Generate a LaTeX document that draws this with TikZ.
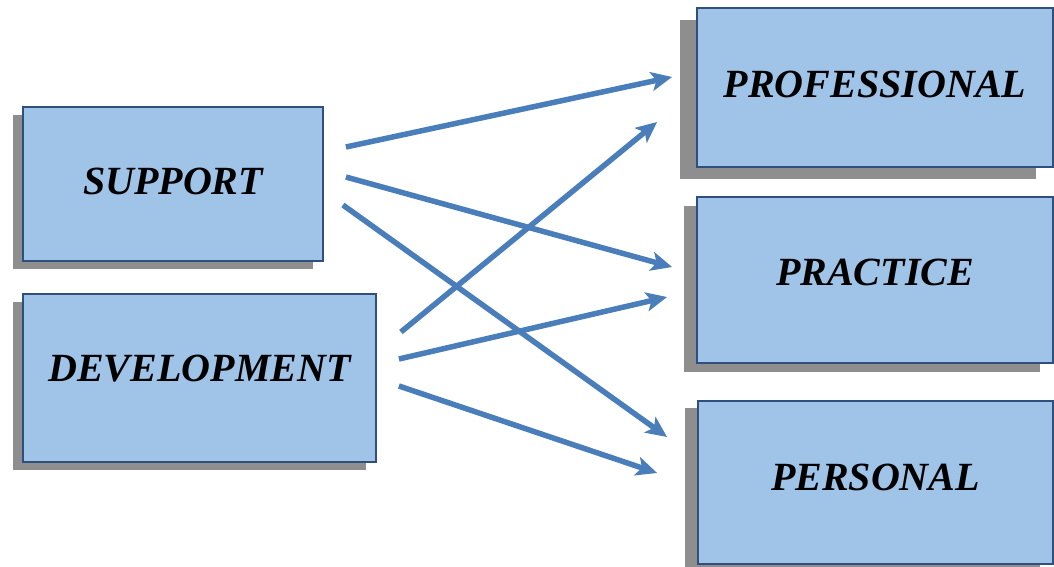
\documentclass[tikz,border=0pt]{standalone}
\usepackage{fontspec}
\setmainfont{Liberation Serif}
\usetikzlibrary{arrows.meta,shadows,calc}
\definecolor{boxfill}{HTML}{9FC4E8}
\definecolor{boxline}{HTML}{2F4F7F}
\definecolor{arrowc}{HTML}{4A7EBB}
\definecolor{shadowc}{HTML}{8E8E8E}
\begin{document}
\begin{tikzpicture}[x=1pt,y=-1pt,
  box/.style={draw=boxline, line width=1.8pt, fill=boxfill, inner sep=0pt,
    font=\fontsize{40}{44}\selectfont\bfseries\itshape},
  shad/.style 2 args={general shadow={fill=shadowc, shadow xshift=#1, shadow yshift=#2}},
  conn/.style={draw=arrowc, line width=5.5pt, -{Stealth[length=21pt,width=19pt,inset=5pt]}}]
\fill[white] (0,0) rectangle (1054,566);
\useasboundingbox (0,0) rectangle (1054,566);
\node[box, shad={-10pt}{-8pt}, minimum width=300pt, minimum height=154pt, text depth=6pt] (sup) at (173,184) {SUPPORT};
\node[box, shad={-10pt}{-8pt}, minimum width=353pt, minimum height=168pt, text depth=20pt] (dev) at (199.5,378) {DEVELOPMENT};
\node[box, shad={-17pt}{-12pt}, minimum width=356pt, minimum height=159pt, text depth=7pt] (prof) at (875,87.5) {PROFESSIONAL};
\node[box, shad={-13pt}{-9pt}, minimum width=356pt, minimum height=166pt, text depth=16pt] (prac) at (875,280) {PRACTICE};
\node[box, shad={-13pt}{-7pt}, minimum width=355pt, minimum height=163pt, text depth=11pt] (pers) at (875.5,482.5) {PERSONAL};
\draw[conn] ($(sup.east)+(22,-37)$) -- ($(prof.west)+(-24,-10.5)$);
\draw[conn] ($(dev.east)+(24,-46)$) -- ($(prof.west)+(-39,34.5)$);
\draw[conn] ($(sup.east)+(22,-7)$) -- ($(prac.west)+(-24,-13)$);
\draw[conn] ($(sup.east)+(19,21)$) -- ($(pers.west)+(-30,-45.5)$);
\draw[conn] ($(dev.east)+(22,-19)$) -- ($(prac.west)+(-29,17)$);
\draw[conn] ($(dev.east)+(22,8)$) -- ($(pers.west)+(-40,-9.5)$);
\end{tikzpicture}
\end{document}
